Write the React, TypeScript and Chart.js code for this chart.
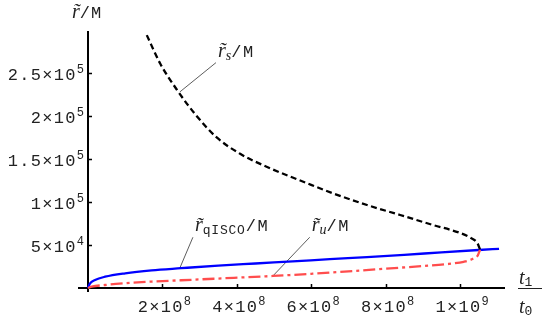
import React, { useEffect, useRef } from "react";
import { Chart, registerables } from "chart.js";

Chart.register(...registerables);

// r_s / M (black dashed), t1/t0 vs r/M
const rsT = [1.58e8, 1.94e8, 2.43e8, 2.92e8, 3.46e8, 4.09e8, 4.8e8, 5.88e8, 6.59e8, 7.5e8, 8.39e8, 9.27e8, 10.0e8, 10.3e8, 10.47e8, 10.54e8];
const rsR = [29.4e4, 26.1e4, 22.8e4, 20.0e4, 17.5e4, 15.6e4, 14.1e4, 12.2e4, 11.0e4, 9.65e4, 8.49e4, 7.33e4, 6.4e4, 5.8e4, 5.2e4, 4.45e4];
// r_u / M (red dash-dot)
const ruT = [0, 0.1e8, 0.46e8, 1.0e8, 1.71e8, 2.5e8, 3.5e8, 4.97e8, 6.0e8, 7.0e8, 8.0e8, 9.0e8, 9.7e8, 10.1e8, 10.35e8, 10.48e8, 10.54e8];
const ruR = [0, 0.15e4, 0.35e4, 0.55e4, 0.75e4, 0.9e4, 1.1e4, 1.4e4, 1.65e4, 1.93e4, 2.25e4, 2.55e4, 2.8e4, 3.05e4, 3.4e4, 3.8e4, 4.45e4];
// r_qISCO / M (blue solid)
const qT = [0, 0.05e8, 0.19e8, 0.46e8, 1.0e8, 1.71e8, 2.5e8, 3.5e8, 4.5e8, 5.5e8, 6.5e8, 7.5e8, 8.5e8, 9.5e8, 10.5e8, 11.05e8];
const qR = [0, 0.5e4, 0.93e4, 1.31e4, 1.71e4, 2.05e4, 2.3e4, 2.6e4, 2.85e4, 3.1e4, 3.35e4, 3.6e4, 3.85e4, 4.15e4, 4.42e4, 4.56e4];

// axis ticks
const xTickVals = [2e8, 4e8, 6e8, 8e8, 1e9];
const xTickBase = ["2×10", "4×10", "6×10", "8×10", "1×10"];
const xTickExp = ["8", "8", "8", "8", "9"];
const yTickVals = [5e4, 1e5, 1.5e5, 2e5, 2.5e5];
const yTickBase = ["5×10", "1×10", "1.5×10", "2×10", "2.5×10"];
const yTickExp = ["4", "5", "5", "5", "5"];

// annotation leader lines (data coordinates): from point on curve to label
const annotations = [
  { from: [2.47e8, 2.28e5], to: [3.44e8, 2.62e5], sub: "s", subMono: false },
  { from: [2.47e8, 2.33e4], to: [2.82e8, 5.9e4], sub: "qISCO", subMono: true },
  { from: [4.97e8, 1.4e4], to: [5.96e8, 5.9e4], sub: "u", subMono: false },
];

const toPts = (xs: number[], ys: number[]) => xs.map((v, i) => ({ x: v, y: ys[i] }));

const SERIF_I = "italic 20px 'Liberation Serif', 'DejaVu Serif', serif";
const SUB_I = "italic 14px 'Liberation Serif', 'DejaVu Serif', serif";
const MONO = "17px 'Liberation Mono', monospace";
const MONO_SUB = "13px 'Liberation Mono', monospace";
const MONO_SUP = "12px 'Liberation Mono', monospace";

type Part = { t: string; font: string; dy?: number; ls?: string };

function drawParts(ctx: CanvasRenderingContext2D, x: number, y: number, parts: Part[], measureOnly = false) {
  let cx = x;
  for (const p of parts) {
    ctx.font = p.font;
    (ctx as any).letterSpacing = p.ls || "0px";
    if (!measureOnly) ctx.fillText(p.t, cx, y + (p.dy || 0));
    cx += ctx.measureText(p.t).width;
  }
  (ctx as any).letterSpacing = "0px";
  return cx - x;
}

const overlay = {
  id: "overlay",
  beforeDatasetsDraw(chart: any) {
    const { ctx, chartArea: a, scales } = chart;
    const sx = scales.x, sy = scales.y;
    const x0 = sx.getPixelForValue(0);
    const y0 = sy.getPixelForValue(0);
    ctx.save();
    ctx.strokeStyle = "#000";
    ctx.lineWidth = 2;
    ctx.beginPath();
    ctx.moveTo(a.left, y0);
    ctx.lineTo(a.right, y0);
    ctx.moveTo(x0, a.top);
    ctx.lineTo(x0, a.bottom);
    ctx.stroke();
    ctx.lineWidth = 1.5;
    ctx.beginPath();
    xTickVals.forEach((v) => {
      const px = Math.round(sx.getPixelForValue(v)) + 0.5;
      ctx.moveTo(px, y0);
      ctx.lineTo(px, y0 - 4);
    });
    yTickVals.forEach((v) => {
      const py = Math.round(sy.getPixelForValue(v)) + 0.5;
      ctx.moveTo(x0, py);
      ctx.lineTo(x0 + 4, py);
    });
    ctx.stroke();

    ctx.fillStyle = "#222";
    ctx.textBaseline = "alphabetic";
    ctx.textAlign = "left";
    // x tick labels
    xTickVals.forEach((v, i) => {
      const parts: Part[] = [
        { t: xTickBase[i], font: MONO, ls: "1.3px" },
        { t: xTickExp[i], font: MONO_SUP, dy: -7 },
      ];
      const w = drawParts(ctx, 0, 0, parts, true);
      const px = sx.getPixelForValue(v);
      drawParts(ctx, px - w / 2 + 2, y0 + 24, parts);
    });
    // y tick labels
    yTickVals.forEach((v, i) => {
      const parts: Part[] = [
        { t: yTickBase[i], font: MONO, ls: "1.3px" },
        { t: yTickExp[i], font: MONO_SUP, dy: -7 },
      ];
      const w = drawParts(ctx, 0, 0, parts, true);
      const py = sy.getPixelForValue(v);
      drawParts(ctx, x0 - 4 - w, py + 7, parts);
    });

    // axis titles
    drawParts(ctx, 72, 18, [
      { t: "r\u0303", font: SERIF_I },
      { t: "/M", font: MONO, ls: "1px" },
    ]);
    // t1/t0 fraction
    const fx = a.right + 13;
    drawParts(ctx, fx + 1, y0 - 4, [
      { t: "t", font: SERIF_I },
      { t: "1", font: MONO_SUB, dy: 2 },
    ]);
    ctx.strokeStyle = "#222";
    ctx.lineWidth = 1;
    ctx.beginPath();
    ctx.moveTo(fx, y0 + 0.5);
    ctx.lineTo(fx + 24, y0 + 0.5);
    ctx.stroke();
    drawParts(ctx, fx + 1, y0 + 25, [
      { t: "t", font: SERIF_I },
      { t: "0", font: MONO_SUB, dy: 2 },
    ]);

    // annotations
    annotations.forEach((an) => {
      const fxp = sx.getPixelForValue(an.from[0]);
      const fyp = sy.getPixelForValue(an.from[1]);
      const txp = sx.getPixelForValue(an.to[0]);
      const typ = sy.getPixelForValue(an.to[1]);
      ctx.strokeStyle = "#333";
      ctx.lineWidth = 0.8;
      ctx.beginPath();
      ctx.moveTo(fxp, fyp);
      ctx.lineTo(txp, typ);
      ctx.stroke();
      drawParts(ctx, txp + 2, typ - 6, [
        { t: "r\u0303", font: SERIF_I },
        { t: an.sub, font: an.subMono ? MONO_SUB : SUB_I, dy: 3, ls: an.subMono ? "0.8px" : "0px" },
        { t: "/M", font: MONO, ls: "1.5px" },
      ]);
    });
    ctx.restore();
  },
};

export default function App() {
  const ref = useRef<HTMLCanvasElement | null>(null);
  useEffect(() => {
    if (!ref.current) return;
    const chart = new Chart(ref.current, {
      type: "scatter",
      data: {
        datasets: [
          {
            label: "r_s/M",
            data: toPts(rsT, rsR),
            showLine: true,
            borderColor: "#000000",
            borderWidth: 2.3,
            borderDash: [6, 3.5],
            pointRadius: 0,
            cubicInterpolationMode: "monotone",
          },
          {
            label: "r_u/M",
            data: toPts(ruT, ruR),
            showLine: true,
            borderColor: "#ff4d4d",
            borderWidth: 2.3,
            borderDash: [12, 4, 3, 4],
            pointRadius: 0,
            cubicInterpolationMode: "monotone",
          },
          {
            label: "r_qISCO/M",
            data: toPts(qT, qR),
            showLine: true,
            borderColor: "#0000ff",
            borderWidth: 2.3,
            pointRadius: 0,
            cubicInterpolationMode: "monotone",
          },
        ],
      },
      options: {
        responsive: false,
        animation: false,
        devicePixelRatio: 1,
        layout: { padding: { left: 78, right: 40, top: 31, bottom: 25 } },
        plugins: { legend: { display: false }, tooltip: { enabled: false } },
        scales: {
          x: { type: "linear", display: false, min: -2.69e7, max: 1.121e9 },
          y: { type: "linear", display: false, min: -4650, max: 2.988e5 },
        },
      },
      plugins: [overlay],
    });
    return () => chart.destroy();
  }, []);
  return (
    <div style={{ position: "fixed", left: 0, top: 0, width: 545, height: 317, background: "#fff" }}>
      <canvas ref={ref} width={545} height={317} style={{ display: "block" }} />
    </div>
  );
}
